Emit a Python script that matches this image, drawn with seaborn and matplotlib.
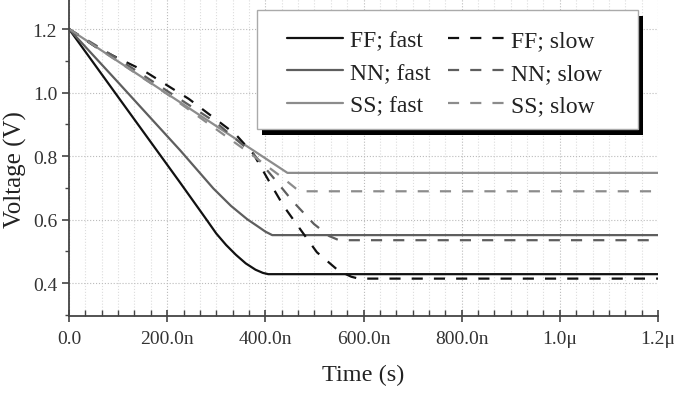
import numpy as np
import pandas as pd
import matplotlib
matplotlib.use('Agg')
import matplotlib.pyplot as plt
import seaborn as sns
from matplotlib.ticker import MultipleLocator, FixedLocator, FixedFormatter
from matplotlib.lines import Line2D
from matplotlib.patches import Rectangle

# time in ns, voltage in V
ff_fast_t = [0, 100, 226, 250, 280, 300, 320, 340, 360, 380, 395, 406, 1200]
ff_fast_v = [1.2, 0.986, 0.717, 0.665, 0.600, 0.556, 0.520, 0.489, 0.462, 0.442, 0.432, 0.428, 0.428]
nn_fast_t = [0, 100, 227, 294, 330, 363, 385, 400, 414, 1200]
nn_fast_v = [1.2, 1.032, 0.817, 0.698, 0.643, 0.601, 0.578, 0.562, 0.551, 0.551]
ss_fast_t = [0, 200, 445, 1200]
ss_fast_v = [1.2, 0.996, 0.747, 0.747]

ff_slow_t = [0, 56, 104, 152, 244, 339, 376, 407, 437, 468, 505, 549, 575, 590, 1200]
ff_slow_v = [1.2, 1.142, 1.105, 1.069, 0.98, 0.869, 0.806, 0.722, 0.643, 0.576, 0.497, 0.439, 0.42, 0.414, 0.414]
nn_slow_t = [0, 100, 200, 300, 376, 420, 455, 499, 530, 550, 1200]
nn_slow_v = [1.2, 1.106, 1.005, 0.905, 0.806, 0.725, 0.659, 0.586, 0.548, 0.535, 0.535]
ss_slow_t = [0, 200, 376, 434, 462, 472, 1200]
ss_slow_v = [1.2, 0.995, 0.800, 0.733, 0.698, 0.689, 0.689]

x_ticks = [0, 200, 400, 600, 800, 1000, 1200]
x_labels = ['0.0', '200.0n', '400.0n', '600.0n', '800.0n', '1.0\u03bc', '1.2\u03bc']
y_ticks = [0.4, 0.6, 0.8, 1.0, 1.2]

series = [
    ('FF; fast', ff_fast_t, ff_fast_v, '#111111', '-'),
    ('NN; fast', nn_fast_t, nn_fast_v, '#5e5e5e', '-'),
    ('SS; fast', ss_fast_t, ss_fast_v, '#8c8c8c', '-'),
    ('FF; slow', ff_slow_t, ff_slow_v, '#111111', (0, (5, 5))),
    ('NN; slow', nn_slow_t, nn_slow_v, '#5e5e5e', (0, (5, 5))),
    ('SS; slow', ss_slow_t, ss_slow_v, '#8c8c8c', (0, (5, 5))),
]

sns.set_style('ticks')
plt.rcParams['font.family'] = ['Liberation Serif', 'DejaVu Serif']

fig = plt.figure(figsize=(6.74, 4.06), dpi=100)
ax = fig.add_axes([0.1024, 0.219, 0.8739, 0.781])

handles = []
for name, t, v, col, ls in series:
    sns.lineplot(x=t, y=v, ax=ax, color=col, linestyle=ls, linewidth=1.6,
                 sort=False, estimator=None, legend=False)
    handles.append(Line2D([], [], color=col, linestyle=ls, linewidth=1.6, label=name))

ax.set_xlim(0, 1200)
ax.set_ylim(0.296, 1.2945)
ax.xaxis.set_major_locator(FixedLocator(x_ticks))
ax.xaxis.set_major_formatter(FixedFormatter(x_labels))
ax.xaxis.set_minor_locator(MultipleLocator(200 / 6))
ax.yaxis.set_major_locator(FixedLocator(y_ticks))
ax.yaxis.set_major_formatter(plt.FuncFormatter(lambda y, p: f'{y:.1f}'))
ax.yaxis.set_minor_locator(MultipleLocator(0.1))

ax.grid(True, which='major', linestyle=':', color='#bbbbbb', linewidth=0.8)
ax.grid(True, which='minor', axis='x', linestyle=':', color='#dddddd', linewidth=0.8)
ax.set_axisbelow(True)

for s in ['top', 'right']:
    ax.spines[s].set_visible(False)
for s in ['left', 'bottom']:
    ax.spines[s].set_color('#444444')
    ax.spines[s].set_linewidth(1.3)

ax.tick_params(axis='x', which='major', direction='inout', length=8, width=1.2, color='#444444',
               labelsize=14, labelcolor='#333333', pad=6)
ax.tick_params(axis='x', which='minor', direction='in', length=4, width=1.0, color='#444444')
ax.tick_params(axis='y', which='major', direction='out', length=5, width=1.2, color='#444444',
               labelsize=14, labelcolor='#333333')
ax.tick_params(axis='y', which='minor', direction='out', length=3, width=1.0, color='#444444')

ax.set_xlabel('Time (s)', fontsize=17.5, color='#222222', labelpad=12)
ax.set_ylabel('Voltage (V)', fontsize=18, color='#222222')
ax.yaxis.set_label_coords(-0.071, 0.464)

# legend box with a hard black shadow
ax.add_patch(Rectangle((0.327, 0.571), 0.647, 0.375, transform=ax.transAxes,
                       facecolor='black', edgecolor='none', zorder=6, clip_on=False))
ax.add_patch(Rectangle((0.319, 0.590), 0.647, 0.375, transform=ax.transAxes,
                       facecolor='white', edgecolor='#aaaaaa', linewidth=1.0, zorder=6.1,
                       clip_on=False))

leg = ax.legend(handles=handles, ncol=2, loc='upper left', bbox_to_anchor=(0.370, 0.903),
                borderaxespad=0, borderpad=0, fontsize=17, frameon=False,
                handlelength=2.37, handletextpad=0.3, columnspacing=0.74,
                labelspacing=0.46)
leg.set_zorder(7)
for txt in leg.get_texts():
    txt.set_color('#222222')

fig.savefig('out.png', dpi=100)
